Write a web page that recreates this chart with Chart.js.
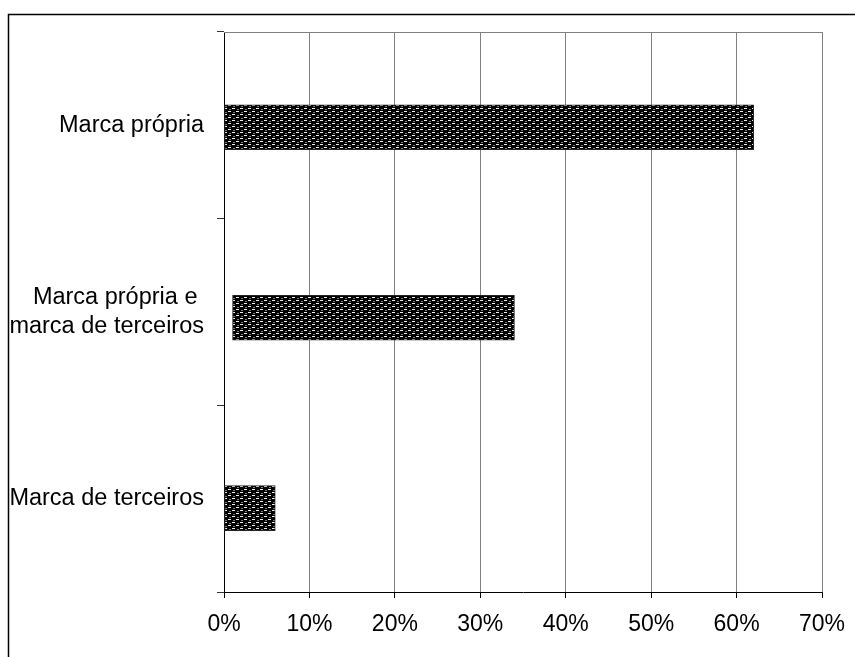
<!DOCTYPE html>
<html>
<head>
<meta charset="utf-8">
<script src="https://cdn.jsdelivr.net/npm/chart.js@4/dist/chart.umd.min.js"></script>
<style>
  html, body { margin: 0; padding: 0; background: #fff; }
  canvas { display: block; }
</style>
</head>
<body>
<canvas id="chart" width="855" height="657"></canvas>
<script>
// Categories (top to bottom) and floating bar extents, in percent
const categories = ['Marca própria', ['Marca própria e ', 'marca de terceiros'], 'Marca de terceiros'];
const barStart = [0, 1, 0];
const barEnd = [62, 34, 6];
// X axis tick range, in percent
const xMin = 0;
const xMax = 70;
const xStep = 10;

// Dark woven fill: staggered rows of light dashes on black
function makePattern() {
  const t = document.createElement('canvas');
  t.width = 8; t.height = 6;
  const c = t.getContext('2d');
  c.fillStyle = '#000';
  c.fillRect(0, 0, 8, 6);
  c.fillStyle = '#f0f0f0';
  c.fillRect(0, 0, 3, 1);
  c.fillRect(4, 3, 3, 1);
  c.fillStyle = '#7a7a7a';
  c.fillRect(5, 1, 2, 1);
  c.fillRect(1, 4, 2, 1);
  return document.getElementById('chart').getContext('2d').createPattern(t, 'repeat');
}

const FONT = 'Liberation Sans, Arial, sans-serif';

// White page, outer frame, and the grey top edge of the plot area
const framePlugin = {
  id: 'frame',
  beforeDraw(chart) {
    const ctx = chart.ctx;
    ctx.save();
    ctx.fillStyle = '#fff';
    ctx.fillRect(0, 0, chart.width, chart.height);
    ctx.strokeStyle = '#000';
    ctx.lineWidth = 1.5;
    ctx.beginPath();
    ctx.moveTo(8.5, chart.height);
    ctx.lineTo(8.5, 14.5);
    ctx.lineTo(chart.width, 14.5);
    ctx.stroke();
    ctx.restore();
  },
  afterDatasetsDraw(chart) {
    const ctx = chart.ctx;
    const a = chart.chartArea;
    ctx.save();
    ctx.strokeStyle = '#808080';
    ctx.lineWidth = 1;
    ctx.beginPath();
    ctx.moveTo(a.left, Math.round(a.top) + 0.5);
    ctx.lineTo(a.right, Math.round(a.top) + 0.5);
    ctx.stroke();
    ctx.restore();
  }
};

new Chart(document.getElementById('chart'), {
  type: 'bar',
  data: {
    labels: categories,
    datasets: [{
      yAxisID: 'yBars',
      data: barStart.map((s, i) => ({ y: i, x: [s, barEnd[i]] })),
      backgroundColor: makePattern(),
      borderColor: '#222',
      borderWidth: 1,
      borderSkipped: false,
      barThickness: 45
    }]
  },
  options: {
    indexAxis: 'y',
    responsive: false,
    animation: false,
    events: [],
    layout: { padding: { left: 0, right: 33, top: 32, bottom: 0 } },
    plugins: {
      legend: { display: false },
      tooltip: { enabled: false }
    },
    scales: {
      // visible category axis: labels and boundary ticks
      y: {
        type: 'category',
        afterFit(scale) { scale.width = 224; },
        grid: {
          offset: true,
          drawOnChartArea: false,
          drawTicks: true,
          tickLength: 7,
          tickColor: '#333'
        },
        border: { color: '#000', width: 1 },
        ticks: {
          color: '#000',
          padding: 13,
          font: { family: FONT, size: 23.5 }
        }
      },
      // hidden index axis that places the bars (slightly wider band pitch)
      yBars: {
        type: 'linear',
        display: false,
        offset: false,
        reverse: true,
        min: -0.5,
        max: 2.44
      },
      x: {
        min: xMin,
        max: xMax,
        afterFit(scale) {
          scale.height = 65;
          scale.paddingLeft = 0;
          scale.paddingRight = 0;
        },
        grid: {
          color: (c) => (c.index === 0 ? '#000' : '#808080'),
          tickColor: '#000',
          tickLength: 6,
          lineWidth: 1
        },
        border: { color: '#000', width: 1 },
        ticks: {
          stepSize: xStep,
          color: '#000',
          padding: 13,
          font: { family: FONT, size: 23 },
          callback: (v) => v + '%'
        }
      }
    }
  },
  plugins: [framePlugin]
});
</script>
</body>
</html>
